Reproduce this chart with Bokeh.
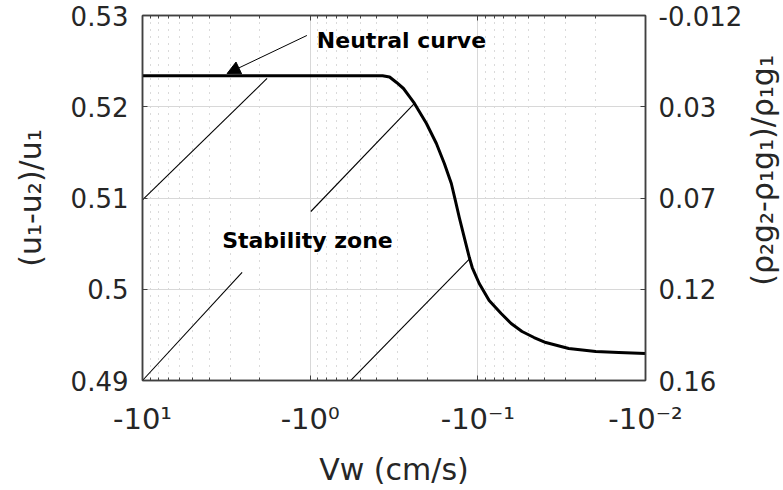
import math

from bokeh.plotting import figure
from bokeh.layouts import row
from bokeh.models import (Range1d, FixedTicker, LinearAxis, LogAxis, Label,
                          Arrow, NormalHead)
from bokeh.embed import file_html
from bokeh.resources import INLINE

# Neutral curve: wall velocity Vw (cm/s) against (u1-u2)/u1
vw = [-10.0, -0.370, -0.3361, -0.3054, -0.2776, -0.2556, -0.2387, -0.2199,
      -0.2025, -0.1767, -0.1584, -0.1439, -0.1362, -0.1290, -0.1204,
      -0.1124, -0.1080, -0.0981, -0.0856, -0.0726, -0.0633, -0.0545,
      -0.0462, -0.0393, -0.0287, -0.0198, -0.01445, -0.0100]
du = [0.5234, 0.5234, 0.52326, 0.52266, 0.52200, 0.52112, 0.52036, 0.51926,
      0.51816, 0.51597, 0.51378, 0.51159, 0.50973, 0.50786, 0.50567,
      0.50348, 0.50238, 0.50063, 0.49877, 0.49734, 0.49625, 0.49537,
      0.49471, 0.49416, 0.49351, 0.49318, 0.49306, 0.49296]

# Hatching of the stability zone (start / end of each stroke)
hatch_vw0 = [-10.0, -10.0, -0.991, -0.597]
hatch_du0 = [0.5098, 0.4900, 0.50852, 0.48967]
hatch_vw1 = [-1.808, -2.546, -0.2387, -0.1124]
hatch_du1 = [0.52310, 0.50184, 0.52036, 0.50330]

# Axis ticks
x_ticks = [10.0, 1.0, 0.1, 0.01]
x_tick_labels = ["-10\u00b9", "-10\u2070", "-10\u207b\u00b9", "-10\u207b\u00b2"]
x_minor = [k * d for d in (1.0, 0.1, 0.01) for k in range(2, 10)]
y_ticks = [0.49, 0.50, 0.51, 0.52, 0.53]
y_tick_labels = ["0.49", "0.5", "0.51", "0.52", "0.53"]
right_tick_labels = ["0.16", "0.12", "0.07", "0.03", "-0.012"]
right_title = "(\u03c1\u2082g\u2082-\u03c1\u2081g\u2081)/\u03c1\u2081g\u2081"

FONT = "DejaVu Sans"
INK = "#262626"

p = figure(width=745, height=490, output_backend="svg", toolbar_location=None,
           x_axis_type="log", x_range=Range1d(10, 0.01),
           y_range=Range1d(0.49, 0.53), x_axis_location=None,
           y_axis_location=None,
           min_border_left=142, min_border_right=98, min_border_top=15,
           min_border_bottom=110)
p.background_fill_color = "white"
p.border_fill_color = "white"
p.outline_line_color = "#404040"
p.outline_line_width = 1.5

xt = FixedTicker(ticks=x_ticks, minor_ticks=x_minor)
yt = FixedTicker(ticks=y_ticks, minor_ticks=[])


def style(ax):
    ax.axis_line_color = "#404040"
    ax.axis_line_width = 1.5
    ax.major_tick_line_color = "#404040"
    ax.minor_tick_line_color = "#404040"
    ax.major_tick_in = 5
    ax.major_tick_out = 0
    ax.minor_tick_in = 3
    ax.minor_tick_out = 0
    ax.major_label_text_font = FONT
    ax.major_label_text_color = INK
    ax.axis_label_text_font = FONT
    ax.axis_label_text_font_style = "normal"
    ax.axis_label_text_color = INK


bottom = LogAxis(ticker=xt, axis_label="Vw (cm/s)",
                 major_label_overrides=dict(zip(x_ticks, x_tick_labels)))
style(bottom)
bottom.major_label_text_font_size = "29px"
bottom.major_label_standoff = 21
bottom.axis_label_text_font_size = "30px"
bottom.axis_label_standoff = 13
p.add_layout(bottom, "below")

# box edge at the top carries the same ticks, without labels
top = LogAxis(ticker=xt)
style(top)
top.major_label_text_font_size = "1px"
top.major_label_text_alpha = 0
top.major_label_standoff = 0
p.add_layout(top, "above")

left = LinearAxis(ticker=yt, axis_label="(u\u2081-u\u2082)/u\u2081",
                  major_label_overrides=dict(zip(y_ticks, y_tick_labels)))
style(left)
left.minor_tick_in = 0
left.major_label_text_font_size = "26px"
left.major_label_standoff = 14
left.axis_label_text_font_size = "30px"
left.axis_label_standoff = 20
p.add_layout(left, "left")

right = LinearAxis(ticker=yt,
                   major_label_overrides=dict(zip(y_ticks, right_tick_labels)))
style(right)
right.minor_tick_in = 0
right.major_label_text_font_size = "26px"
right.major_label_standoff = 13
p.add_layout(right, "right")

# grid: solid major lines, dotted minor lines on the velocity axis
p.xgrid.ticker = xt
p.ygrid.ticker = yt
p.xgrid.grid_line_color = "#d8d8d8"
p.ygrid.grid_line_color = "#d8d8d8"
p.xgrid.minor_grid_line_color = "#b4b4b4"
p.xgrid.minor_grid_line_dash = "1 6"

# stability zone hatching
p.segment(x0=[-v for v in hatch_vw0], y0=hatch_du0,
          x1=[-v for v in hatch_vw1], y1=hatch_du1,
          line_color="black", line_width=1.1)

# neutral curve
p.line(x=[-v for v in vw], y=du, line_color="black", line_width=3,
       line_join="round")

p.add_layout(Arrow(end=NormalHead(size=13, fill_color="black",
                                  line_color="black"),
                   x_start=1.046, y_start=0.52781, x_end=3.13, y_end=0.52364,
                   line_color="black", line_width=1))
p.add_layout(Label(x=0.912, y=0.52726, text="Neutral curve",
                   text_font=FONT, text_font_style="bold",
                   text_font_size="22px", text_baseline="middle",
                   text_color="black"))
p.add_layout(Label(x=3.35, y=0.50534, text="Stability zone",
                   text_font=FONT, text_font_style="bold",
                   text_font_size="22px", text_baseline="middle",
                   text_color="black"))

# narrow strip on the right holding the right-hand title, reading upwards
side = figure(width=38, height=490, output_backend="svg", toolbar_location=None,
              x_range=Range1d(0, 1), y_range=Range1d(0, 1),
              x_axis_location=None, y_axis_location=None, min_border=0)
side.grid.visible = False
side.outline_line_color = None
side.background_fill_color = "white"
side.border_fill_color = "white"
side.add_layout(Label(x=0.45, y=0.5755, text=right_title, angle=math.pi / 2,
                      text_align="center", text_baseline="middle",
                      text_font=FONT, text_font_size="30px", text_color=INK))

layout = row(p, side, spacing=0)
open("out.html", "w").write(file_html(layout, INLINE))
